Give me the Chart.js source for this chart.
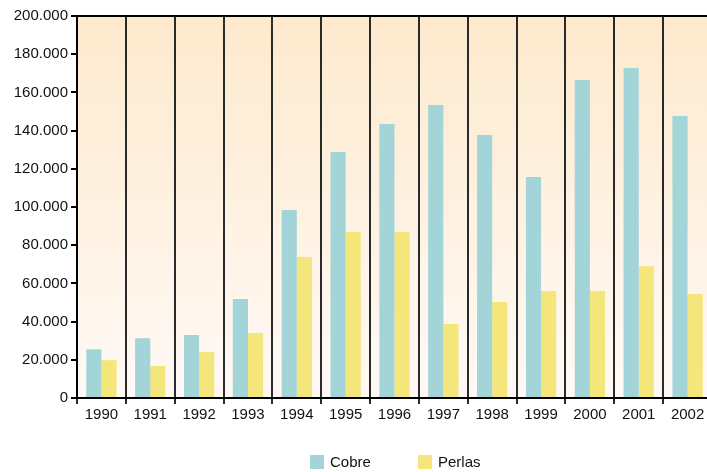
<!DOCTYPE html>
<html>
<head>
<meta charset="utf-8">
<script src="https://cdn.jsdelivr.net/npm/chart.js@4/dist/chart.umd.min.js"></script>
<style>
html,body{margin:0;padding:0;background:#fff;overflow:hidden;}
#wrap{width:712px;height:472px;position:relative;}
</style>
</head>
<body>
<div id="wrap"><canvas id="c"></canvas></div>
<script>
const categories = ['1990','1991','1992','1993','1994','1995','1996','1997','1998','1999','2000','2001','2002'];
const cobre  = [25500, 31300, 33000, 51800, 98400, 128800, 143500, 153400, 137700, 115700, 166500, 172800, 147600];
const perlas = [19800, 16800, 24000, 34000, 73800, 86900, 86900, 38700, 50300, 56000, 56000, 69000, 54500];
const seriesNames = ['Cobre', 'Perlas'];
const seriesColors = ['#a2d4d8', '#f4e67a'];

const FONT = 'Liberation Sans, Arial, Helvetica, sans-serif';

const bgPlugin = {
  id: 'bgPlugin',
  beforeDraw(chart) {
    const {ctx, chartArea: a} = chart;
    const g = ctx.createLinearGradient(0, a.top, 0, a.bottom);
    g.addColorStop(0, '#fdeacd');
    g.addColorStop(1, '#fff9f6');
    ctx.save();
    ctx.fillStyle = g;
    ctx.fillRect(a.left, a.top, a.right - a.left, a.bottom - a.top);
    ctx.restore();
  },
  afterDraw(chart) {
    const {ctx, chartArea: a} = chart;
    ctx.save();
    ctx.strokeStyle = '#000';
    ctx.lineWidth = 2;
    ctx.beginPath();
    ctx.moveTo(a.left - 1, a.top);
    ctx.lineTo(a.right, a.top);
    ctx.stroke();
    // legend
    ctx.font = '15px ' + FONT;
    ctx.textBaseline = 'middle';
    ctx.textAlign = 'left';
    const xs = [310, 418];
    chart.data.datasets.forEach((ds, i) => {
      ctx.fillStyle = ds.backgroundColor;
      ctx.fillRect(xs[i], 455, 14, 14);
      ctx.fillStyle = '#111';
      ctx.fillText(ds.label, xs[i] + 20, 463);
    });
    ctx.restore();
  }
};

new Chart(document.getElementById('c'), {
  type: 'bar',
  data: {
    labels: categories,
    datasets: [
      {label: seriesNames[0], data: cobre, backgroundColor: seriesColors[0]},
      {label: seriesNames[1], data: perlas, backgroundColor: seriesColors[1]}
    ]
  },
  options: {
    responsive: true,
    maintainAspectRatio: false,
    animation: false,
    layout: {padding: {top: 16, right: 0, bottom: 46, left: 0}},
    datasets: {bar: {categoryPercentage: 0.62, barPercentage: 1.0}},
    plugins: {legend: {display: false}, tooltip: {enabled: false}},
    scales: {
      x: {
        grid: {display: true, drawOnChartArea: true, drawTicks: true, tickLength: 6, color: '#2a2a2a', lineWidth: 2, offset: true},
        border: {display: true, color: '#000', width: 2},
        ticks: {color: '#111', font: {family: FONT, size: 15}, padding: 2, maxRotation: 0, autoSkip: false}
      },
      y: {
        min: 0, max: 200000,
        afterFit(scale) { scale.width = 77; },
        grid: {display: true, drawOnChartArea: false, drawTicks: true, tickLength: 6, color: '#000', lineWidth: 2},
        border: {display: true, color: '#000', width: 2},
        ticks: {
          stepSize: 20000, color: '#111', padding: 3,
          font: {family: FONT, size: 15},
          callback: v => v === 0 ? '0' : v.toLocaleString('de-DE')
        }
      }
    }
  },
  plugins: [bgPlugin]
});
</script>
</body>
</html>
